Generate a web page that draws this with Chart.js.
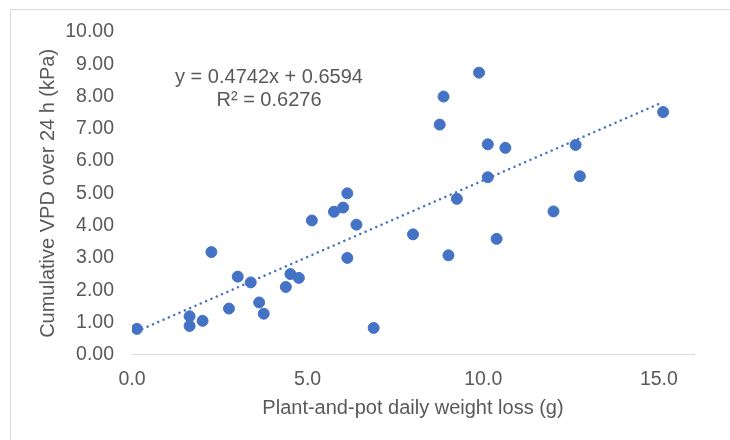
<!DOCTYPE html>
<html>
<head>
<meta charset="utf-8">
<script src="https://cdn.jsdelivr.net/npm/chart.js@4"></script>
<style>
    html, body { margin: 0; padding: 0; background: #ffffff; }
    #wrap { width: 730px; height: 440px; }
</style>
</head>
<body>
<div id="wrap"><canvas id="vpdChart" width="730" height="440"></canvas></div>
<script>
// Daily weight loss of plant and pot (g)
const weightLoss = [
    0.14, 1.64, 1.64, 2.01, 2.26, 2.76, 3.01, 3.38, 3.62, 3.75,
    4.38, 4.51, 4.75, 5.12, 5.75, 6.01, 6.13, 6.13, 6.39, 6.88,
    8.00, 8.76, 8.87, 9.01, 9.25, 9.88, 10.13, 10.13, 10.38, 10.63,
    12.00, 12.63, 12.75, 15.12
];
// Cumulative VPD over 24 h (kPa)
const cumulativeVpd = [
    0.80, 1.19, 0.89, 1.05, 3.18, 1.43, 2.42, 2.24, 1.62, 1.27,
    2.10, 2.50, 2.38, 4.16, 4.43, 4.56, 5.00, 3.00, 4.03, 0.83,
    3.73, 7.13, 8.00, 3.08, 4.83, 8.74, 6.52, 5.50, 3.59, 6.41,
    4.44, 6.50, 5.53, 7.52
];

// Linear trendline
const slope = 0.4742;
const intercept = 0.6594;
const rSquared = 0.6276;

const xTicks = [0, 5, 10, 15];
const yTicks = [0, 1, 2, 3, 4, 5, 6, 7, 8, 9, 10];

const textColor = '#595959';
const blue = '#4472C4';
const fontFamily = '"Liberation Sans", Arial, sans-serif';

const points = weightLoss.map((x, i) => ({ x: x, y: cumulativeVpd[i] }));
const xMin = Math.min(...weightLoss);
const xMax = Math.max(...weightLoss);
const trendPoints = [
    { x: xMin, y: slope * xMin + intercept },
    { x: xMax, y: slope * xMax + intercept }
];

// Thin frame along the top and left edges plus the equation label
const decorations = {
    id: 'decorations',
    beforeDraw(chart) {
        const ctx = chart.ctx;
        ctx.save();
        ctx.strokeStyle = '#d9d9d9';
        ctx.lineWidth = 1;
        ctx.beginPath();
        ctx.moveTo(10.5, 440);
        ctx.lineTo(10.5, 9.5);
        ctx.lineTo(730, 9.5);
        ctx.stroke();
        ctx.restore();
    },
    afterDraw(chart) {
        const ctx = chart.ctx;
        ctx.save();
        ctx.fillStyle = textColor;
        ctx.font = '20px ' + fontFamily;
        ctx.textAlign = 'center';
        ctx.textBaseline = 'middle';
        ctx.fillText('y = ' + slope.toFixed(4) + 'x + ' + intercept.toFixed(4), 269, 77);
        ctx.fillText('R² = ' + rSquared.toFixed(4), 269, 100);
        ctx.restore();
    }
};

new Chart(document.getElementById('vpdChart'), {
    type: 'scatter',
    data: {
        datasets: [
            {
                label: 'VPD',
                data: points,
                backgroundColor: blue,
                borderColor: blue,
                borderWidth: 1,
                pointRadius: 5.5,
                pointHoverRadius: 5.5
            },
            {
                label: 'Linear',
                type: 'line',
                data: trendPoints,
                borderColor: blue,
                borderWidth: 2.5,
                borderDash: [0.1, 5.7],
                borderCapStyle: 'round',
                pointRadius: 0,
                fill: false
            }
        ]
    },
    options: {
        responsive: false,
        animation: false,
        layout: {
            padding: { left: 26, right: 36, top: 32, bottom: 20 }
        },
        plugins: {
            legend: { display: false },
            tooltip: { enabled: false }
        },
        scales: {
            x: {
                type: 'linear',
                min: 0,
                max: 16,
                afterBuildTicks(scale) {
                    scale.ticks = xTicks.map(v => ({ value: v }));
                },
                afterFit(scale) {
                    scale.height = 65.3;
                },
                grid: { display: false, drawTicks: false },
                border: { display: true, color: '#d9d9d9', width: 1 },
                ticks: {
                    padding: 13,
                    color: textColor,
                    font: { family: fontFamily, size: 19.5 },
                    maxRotation: 0,
                    callback: v => Number(v).toFixed(1)
                },
                title: {
                    display: true,
                    text: 'Plant-and-pot daily weight loss (g)',
                    color: textColor,
                    font: { family: fontFamily, size: 20 },
                    padding: { top: 0, bottom: 0 }
                }
            },
            y: {
                type: 'linear',
                min: 0,
                max: 10,
                afterBuildTicks(scale) {
                    scale.ticks = yTicks.map(v => ({ value: v }));
                },
                afterFit(scale) {
                    scale.width = 106;
                },
                grid: { display: false, drawTicks: false },
                border: { display: false },
                ticks: {
                    padding: 18,
                    color: textColor,
                    font: { family: fontFamily, size: 19.5 },
                    callback: v => Number(v).toFixed(2)
                },
                title: {
                    display: true,
                    text: 'Cumulative VPD over 24 h (kPa)',
                    color: textColor,
                    font: { family: fontFamily, size: 20 },
                    padding: { top: 10, bottom: 0 }
                }
            }
        }
    },
    plugins: [decorations]
});
</script>
</body>
</html>
